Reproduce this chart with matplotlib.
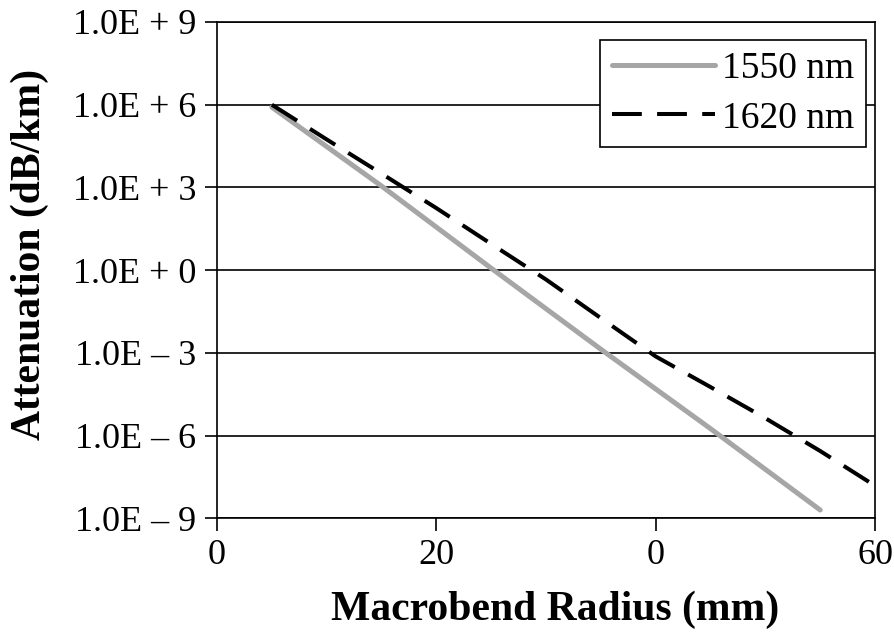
import matplotlib
matplotlib.use("Agg")
import matplotlib.pyplot as plt
import numpy as np

# Macrobend loss versus bend radius for two wavelengths
radius_1550 = [5, 15, 25, 35, 45, 55]
loss_exp_1550 = [5.91, 3.05, 0.07, -2.87, -5.75, -8.7]

radius_1620 = [5, 10, 15, 20, 25, 30, 35, 40, 45, 50, 55, 60]
loss_exp_1620 = [6.0, 4.74, 3.5, 2.25, 0.95, -0.34, -1.74, -3.13, -4.24, -5.37, -6.56, -7.82]

series_labels = ["1550 nm", "1620 nm"]

x_ticks = [0, 20, 40, 60]
x_tick_labels = ["0", "20", "0", "60"]
y_tick_exps = [-9, -6, -3, 0, 3, 6, 9]
y_tick_labels = ["1.0E \u2013 9", "1.0E \u2013 6", "1.0E \u2013 3", "1.0E + 0",
                 "1.0E + 3", "1.0E + 6", "1.0E + 9"]

plt.rcParams["font.family"] = ["Liberation Serif", "DejaVu Serif"]

fig = plt.figure(figsize=(8.95, 6.34), dpi=100)
ax = fig.add_axes([0.2425, 0.1825, 0.7352, 0.7828])

ax.set_yscale("log")
ax.set_xlim(0, 60)
ax.set_ylim(1e-9, 1e9)

y1550 = 10.0 ** np.array(loss_exp_1550)
y1620 = 10.0 ** np.array(loss_exp_1620)

ax.plot(radius_1550, y1550, color="#a6a6a6", lw=3.6, solid_capstyle="round",
        label=series_labels[0], zorder=3)
ax.plot(radius_1620, y1620, color="black", lw=2.9, dashes=(7.4, 3.8),
        label=series_labels[1], zorder=4, clip_on=False)

yt = [10.0 ** e for e in y_tick_exps]
ax.set_yticks(yt)
ax.set_yticklabels(y_tick_labels)
ax.yaxis.set_minor_locator(matplotlib.ticker.NullLocator())
ax.set_xticks(x_ticks)
ax.set_xticklabels(x_tick_labels)

ax.tick_params(axis="both", which="major", labelsize=26, length=9, width=1.2,
               direction="out", color="black")
ax.tick_params(axis="y", pad=6)
ax.tick_params(axis="x", pad=6)

ax.grid(axis="y", which="major", color="black", lw=1.2)
ax.set_axisbelow(True)
for s in ax.spines.values():
    s.set_color("black")
    s.set_linewidth(1.2)

fig.text(0.620, 0.038, "Macrobend Radius (mm)", fontsize=30, fontweight="bold",
         ha="center", va="center")
fig.text(0.0335, 0.598, "Attenuation (dB/km)", fontsize=30, fontweight="bold",
         ha="center", va="center", rotation=90)

leg = ax.legend(loc="upper right", bbox_to_anchor=(0.986, 0.963), fontsize=27,
                frameon=True, fancybox=False, handlelength=2.75, handletextpad=0.2,
                borderpad=0.3, labelspacing=0.4, borderaxespad=0.0)
leg.get_frame().set_edgecolor("black")
leg.get_frame().set_linewidth(1.2)
leg.get_frame().set_alpha(1)

fig.savefig("out.png", dpi=100)
